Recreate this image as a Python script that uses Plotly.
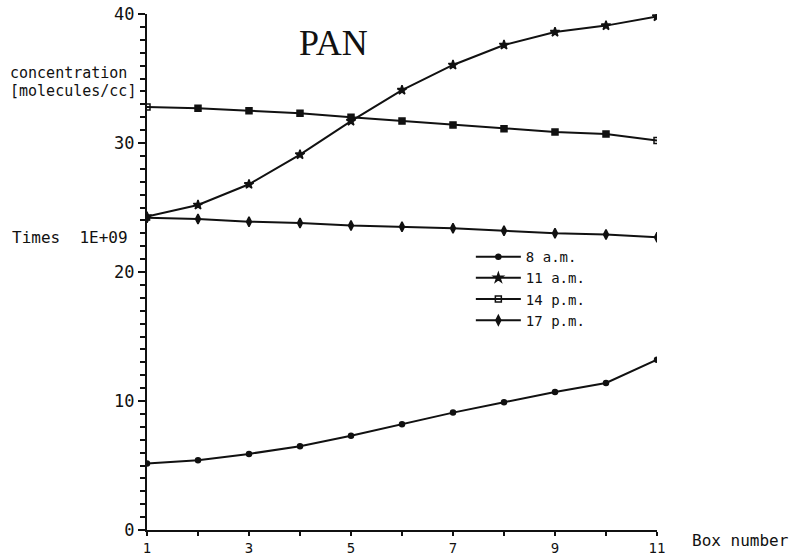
import plotly.graph_objects as go

# PAN concentration (x 1E+09 molecules/cc) along the box column, at four times of day
box = [1, 2, 3, 4, 5, 6, 7, 8, 9, 10, 11]
x_tick_labels = [1, 3, 5, 7, 9, 11]
y_tick_labels = [0, 10, 20, 30, 40]
hours = ["8 a.m.", "11 a.m.", "14 p.m.", "17 p.m."]

pan_8am = [5.15, 5.4, 5.9, 6.5, 7.3, 8.2, 9.1, 9.9, 10.7, 11.4, 13.2]
pan_11am = [24.3, 25.2, 26.8, 29.1, 31.7, 34.1, 36.05, 37.6, 38.6, 39.1, 39.8]
pan_14pm = [32.8, 32.7, 32.5, 32.3, 32.0, 31.7, 31.4, 31.1, 30.85, 30.7, 30.2]
pan_17pm = [24.2, 24.1, 23.9, 23.8, 23.6, 23.5, 23.4, 23.2, 23.0, 22.9, 22.7]

series = [pan_8am, pan_11am, pan_14pm, pan_17pm]

n = len(box)
symbols = [
    "circle",
    "star",
    ["square-open"] + ["square"] * (n - 2) + ["square-open"],
    "diamond-tall",
]
sizes = [5, 7, 6, 7]

INK = "#111111"
MONO = "DejaVu Sans Mono"

fig = go.Figure()
for name, values, sym, sz in zip(hours, series, symbols, sizes):
    fig.add_trace(go.Scatter(
        x=box, y=values, name=name, mode="lines+markers",
        line=dict(color=INK, width=2),
        marker=dict(symbol=sym, size=sz, color=INK,
                    line=dict(color=INK, width=1.5)),
    ))

fig.update_layout(
    width=792, height=558,
    margin=dict(l=147, r=135, t=14, b=28, autoexpand=False),
    paper_bgcolor="white", plot_bgcolor="white",
    showlegend=True,
    legend=dict(
        x=0.635, y=0.56, xanchor="left", yanchor="top",
        font=dict(family=MONO, size=14, color=INK),
        bgcolor="rgba(0,0,0,0)", itemwidth=45, tracegroupgap=0,
    ),
    font=dict(family=MONO, color=INK),
)

fig.update_xaxes(
    range=[1, 11], automargin=False,
    tickmode="array", tickvals=x_tick_labels,
    ticktext=[str(v) for v in x_tick_labels],
    showgrid=False, zeroline=False,
    showline=True, linecolor=INK, linewidth=2,
    ticks="outside", ticklen=4, tickwidth=2, tickcolor=INK,
    tickfont=dict(family=MONO, size=14, color=INK),
    minor=dict(tickmode="linear", dtick=1, tick0=1, ticks="outside", ticklen=4,
               tickwidth=2, tickcolor=INK, showgrid=False),
)
fig.update_yaxes(
    range=[0, 40], automargin=False,
    tickmode="array", tickvals=y_tick_labels,
    ticktext=[str(v) for v in y_tick_labels],
    showgrid=False, zeroline=False,
    showline=True, linecolor=INK, linewidth=2,
    ticks="outside", ticklen=7, tickwidth=2, tickcolor=INK,
    tickfont=dict(family=MONO, size=17, color=INK),
    minor=dict(tickmode="linear", dtick=1, tick0=0, ticks="outside", ticklen=5,
               tickwidth=2, tickcolor=INK, showgrid=False),
)

annotations = [
    dict(text="PAN", x=0.365, y=0.944, xanchor="center", yanchor="middle",
         font=dict(family="Liberation Serif", size=36, color=INK)),
    dict(text="concentration", x=-0.2725, y=0.886, xanchor="left", yanchor="middle",
         font=dict(family=MONO, size=15, color=INK)),
    dict(text="[molecules/cc]", x=-0.2725, y=0.850, xanchor="left", yanchor="middle",
         font=dict(family=MONO, size=15, color=INK)),
    dict(text="Times  1E+09", x=-0.268, y=0.566, xanchor="left", yanchor="middle",
         font=dict(family=MONO, size=16, color=INK)),
    dict(text="Box number", x=1.065, y=-0.02, xanchor="left", yanchor="middle",
         font=dict(family=MONO, size=16, color=INK)),
]
for a in annotations:
    fig.add_annotation(xref="paper", yref="paper", showarrow=False, **a)

fig.write_html("out.html")
